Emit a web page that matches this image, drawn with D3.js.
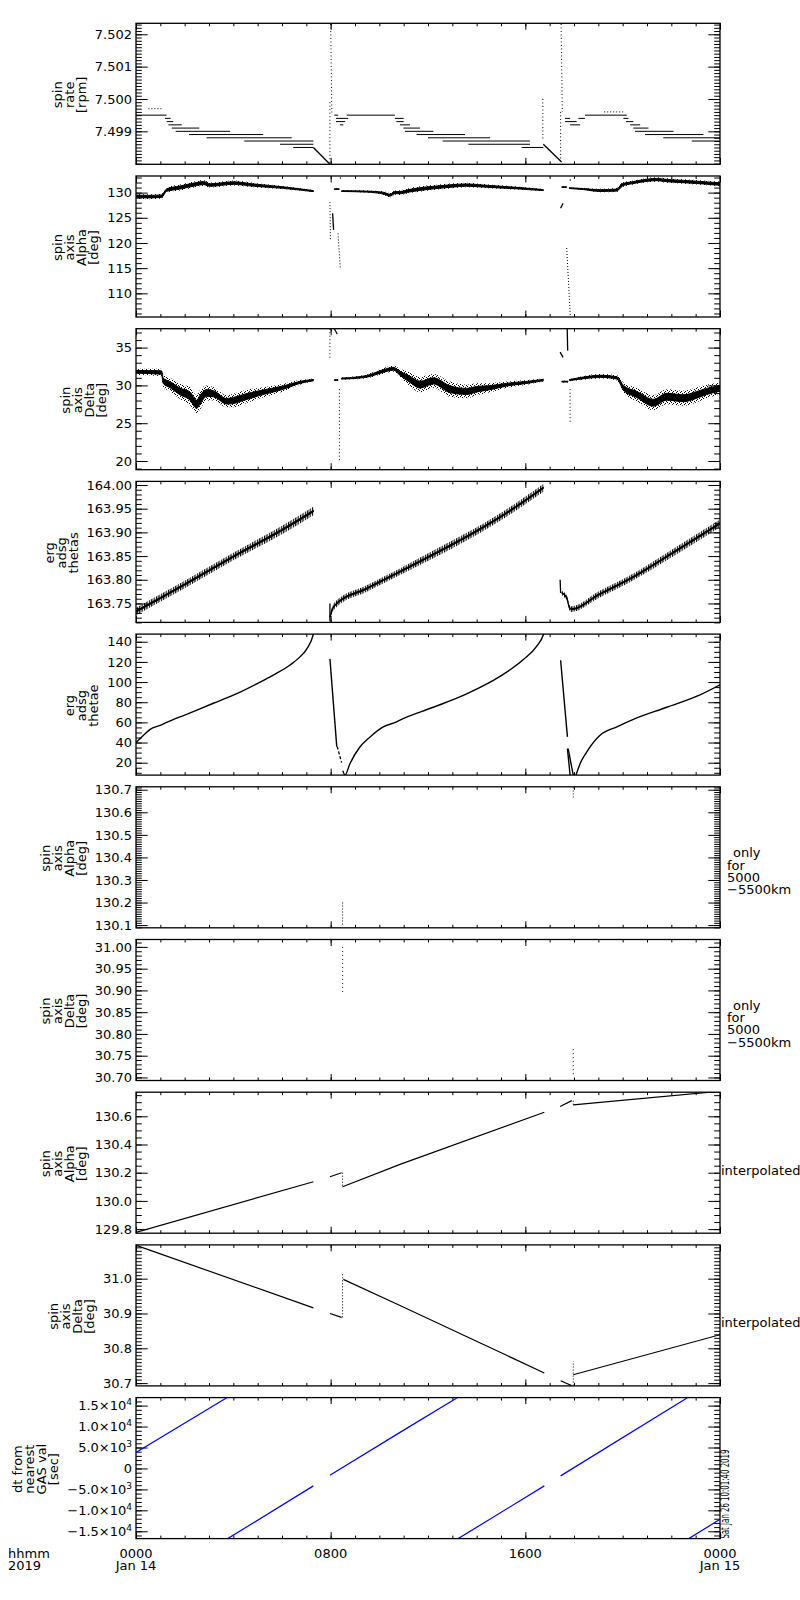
<!DOCTYPE html>
<html>
<head>
<meta charset="utf-8">
<script src="https://cdn.jsdelivr.net/npm/d3@7"></script>
<style>
body { margin: 0; background: #fff; }
text { font-family: "DejaVu Sans", sans-serif; font-size: 13px; fill: #000; }
</style>
</head>
<body>
<script>
// time axis (hours of Jan 14 2019)
const xMajor = [0, 8, 16, 24];
const xMajorLabels = ['0000', '0800', '1600', '0000'];
const xDayLabels = ['Jan 14', '', '', 'Jan 15'];

// panel 1: spin rate [rpm]  -- steps are [t0, t1, value]
const rateTicks = [7.499, 7.500, 7.501, 7.502];
const rateTickLabels = ['7.499', '7.500', '7.501', '7.502'];
const rateSteps = [
  [0, 1.26, 7.4995], [1.19, 1.42, 7.4994], [1.26, 1.53, 7.4993], [1.33, 1.88, 7.4992],
  [1.47, 2.60, 7.4991], [1.63, 3.86, 7.4990], [2.18, 5.23, 7.4989], [2.90, 6.40, 7.4988],
  [4.45, 7.29, 7.4987], [5.92, 7.29, 7.4986], [6.46, 7.29, 7.4985],
  [8.15, 8.31, 7.4995], [8.22, 8.72, 7.4994], [8.22, 8.60, 7.4993], [8.38, 8.52, 7.4992],
  [8.66, 10.64, 7.4995], [10.64, 11.00, 7.4994], [10.70, 11.00, 7.4993], [10.85, 11.26, 7.4992],
  [10.99, 11.67, 7.4991], [11.05, 12.22, 7.4990], [11.53, 13.52, 7.4989], [12.00, 14.55, 7.4988],
  [12.60, 16.19, 7.4987], [13.66, 16.19, 7.4986], [15.85, 16.74, 7.4985],
  [17.63, 17.84, 7.4994], [17.63, 18.11, 7.4993], [17.84, 18.25, 7.4992], [18.18, 18.45, 7.4994],
  [18.45, 20.17, 7.4995], [20.03, 20.24, 7.4994], [20.14, 20.44, 7.4993], [20.31, 20.72, 7.4992],
  [20.44, 21.06, 7.4991], [20.51, 22.09, 7.4990], [20.92, 23.32, 7.4989], [21.67, 24.00, 7.4988],
  [22.84, 24.00, 7.4987]
];
const rateStepsDotted = [[0.51, 1.08, 7.4997], [19.24, 20.06, 7.4996]];
const rateRamps = [
  [[7.29, 7.4985], [7.97, 7.49798]],
  [[16.74, 7.4986], [17.49, 7.49805]]
];
const rateSpikes = [
  [[8.00, 7.50232], [8.05, 7.4995]], [[7.97, 7.4999], [7.97, 7.4980]],
  [[17.47, 7.50232], [17.52, 7.4996]], [[17.45, 7.4996], [17.45, 7.4981]],
  [[16.72, 7.5000], [16.72, 7.4987]]
];

// panel 2: spin axis Alpha [deg]  -- bands are [t, middle, half spread]
const alphaTicks = [110, 115, 120, 125, 130];
const alphaTickLabels = ['110', '115', '120', '125', '130'];
const alphaBands = [
  [[0, 129.3, 0.45], [0.5, 129.2, 0.5], [1.05, 129.3, 0.5], [1.26, 130.5, 0.5], [1.8, 131.0, 0.6],
   [2.49, 131.7, 0.6], [2.77, 131.9, 0.6], [3.04, 131.5, 0.5], [4.0, 131.9, 0.5], [4.82, 131.5, 0.45],
   [6.05, 131.0, 0.3], [7.29, 130.3, 0.2]],
  [[8.15, 130.7, 0.12], [8.35, 130.7, 0.12]],
  [[8.45, 130.3, 0.15], [9.48, 130.2, 0.2], [10.16, 129.9, 0.35], [10.44, 129.5, 0.4], [10.64, 130.0, 0.4],
   [10.85, 130.0, 0.45], [11.26, 130.4, 0.5], [11.67, 130.7, 0.55], [12.22, 131.0, 0.5], [12.9, 131.3, 0.5],
   [13.59, 131.5, 0.45], [14.28, 131.3, 0.4], [14.96, 131.1, 0.35], [15.65, 130.9, 0.3], [16.74, 130.5, 0.2]],
  [[17.5, 131.1, 0.12], [17.7, 131.1, 0.12]],
  [[17.81, 130.9, 0.15], [18.39, 130.7, 0.2], [19.07, 130.4, 0.35], [19.76, 130.5, 0.4], [19.97, 131.5, 0.45],
   [20.44, 132.0, 0.4], [21.4, 132.6, 0.45], [21.81, 132.4, 0.45], [22.5, 132.2, 0.45], [23.18, 132.0, 0.45],
   [24, 131.7, 0.5]]
];
const alphaJumps = [[[8.08, 125.9], [8.12, 122.6]], [[17.45, 126.9], [17.55, 127.9]]];
const alphaDots = [[[7.97, 128.1], [7.99, 120.6]], [[8.3, 121.9], [8.4, 114.8]], [[17.7, 119.0], [17.85, 105.3]]];
const alphaPoints = [[8.4, 132.9], [17.85, 132.5]];

// panel 3: spin axis Delta [deg]
const deltaTicks = [20, 25, 30, 35];
const deltaTickLabels = ['20', '25', '30', '35'];
const deltaBands = [
  [[0, 31.8, 0.4], [1.05, 31.7, 0.5], [1.12, 30.6, 0.8], [1.4, 30.1, 0.9], [1.81, 29.2, 1.0], [2.22, 28.6, 1.2],
   [2.49, 27.5, 1.2], [2.63, 28.1, 1.3], [2.9, 29.0, 1.0], [3.18, 28.9, 0.9], [3.73, 27.9, 0.8], [4.0, 28.0, 0.9],
   [4.41, 28.4, 0.9], [5.1, 29.0, 0.7], [6.05, 29.7, 0.5], [6.74, 30.4, 0.3], [7.29, 30.7, 0.2]],
  [[8.15, 30.7, 0.12], [8.3, 30.7, 0.12]],
  [[8.45, 30.9, 0.15], [9.48, 31.2, 0.25], [10.16, 31.9, 0.4], [10.58, 32.2, 0.4], [10.85, 31.6, 0.6],
   [11.26, 30.8, 0.9], [11.67, 30.1, 1.0], [12.22, 30.6, 0.9], [12.9, 29.5, 1.0], [13.59, 29.2, 0.9],
   [14.0, 29.5, 0.8], [14.55, 29.7, 0.6], [15.24, 30.1, 0.4], [16.06, 30.4, 0.3], [16.74, 30.7, 0.2]],
  [[17.5, 30.5, 0.12], [17.75, 30.5, 0.12]],
  [[17.81, 30.7, 0.15], [18.39, 31.0, 0.25], [19.07, 31.2, 0.3], [19.76, 31.0, 0.35], [20.03, 29.7, 0.7],
   [20.58, 28.8, 0.9], [21.26, 27.7, 1.0], [21.81, 28.5, 1.0], [22.5, 28.3, 1.0], [22.91, 28.6, 1.0],
   [23.45, 29.2, 0.9], [24, 29.6, 0.8]]
];
const deltaJumps = [[[8.15, 37.5], [8.27, 36.8]], [[17.43, 34.4], [17.55, 33.7]], [[17.72, 37.6], [17.74, 34.6]]];
const deltaDots = [[[7.97, 37.5], [7.97, 33.5]], [[8.36, 29.5], [8.36, 20.1]], [[17.84, 29.5], [17.84, 25.2]]];

// panel 4: erg adsg thetas
const thetasTicks = [163.75, 163.80, 163.85, 163.90, 163.95, 164.00];
const thetasTickLabels = ['163.75', '163.80', '163.85', '163.90', '163.95', '164.00'];
const thetasBands = [
  [[0, 163.733, 0.008], [2, 163.79, 0.008], [4, 163.849, 0.008], [6, 163.905, 0.009], [7.29, 163.945, 0.009]],
  [[7.97, 163.722, 0.005], [8.15, 163.745, 0.007], [9.5, 163.782, 0.007], [10.85, 163.817, 0.007],
   [12.2, 163.853, 0.008], [13.59, 163.891, 0.008], [15.2, 163.94, 0.008], [16.74, 163.994, 0.008]],
  [[17.5, 163.772, 0.005], [17.72, 163.76, 0.006], [17.8, 163.742, 0.006], [17.9, 163.738, 0.006],
   [19, 163.768, 0.007], [20.44, 163.806, 0.007], [22, 163.855, 0.008], [24, 163.919, 0.008]]
];
const thetasJumps = [[[7.97, 163.75], [7.97, 163.712]], [[17.43, 163.80], [17.45, 163.772]]];

// panel 5: erg adsg thetae
const thetaeTicks = [20, 40, 60, 80, 100, 120, 140];
const thetaeTickLabels = ['20', '40', '60', '80', '100', '120', '140'];
const thetaeLines = [
  [[0, 40], [0.3, 47], [0.58, 53], [0.99, 57], [1.26, 60], [2.08, 68], [3.18, 79], [4.0, 87], [5.1, 100],
   [5.64, 107], [6.33, 117], [6.74, 125], [7.02, 133], [7.29, 147.6], [7.33, 152]],
  [[7.97, 123], [8.25, 36]],
  [[8.5, 12], [8.59, 7.7], [8.79, 19], [9.2, 35.6], [9.62, 45.6], [10.16, 55.5], [10.71, 60.6], [10.85, 62.3],
   [12.22, 75], [13.59, 88.3], [14.96, 105.6], [15.92, 122.3], [16.47, 135.6], [16.74, 147], [16.8, 152]],
  [[17.45, 121.6], [17.73, 45.6]],
  [[17.73, 34], [17.84, 7.6]],
  [[17.76, 34], [17.97, 7.6]],
  [[18.08, 7.6], [18.25, 19], [18.52, 30.6], [19.07, 47.3], [19.76, 55.6], [20.44, 63], [21.81, 75],
   [23.18, 87.3], [24, 97.3]]
];
const thetaeDashes = [[[8.27, 36], [8.45, 20]]];

// panel 6: spin axis Alpha only for 5000-5500km
const alphaOnlyTicks = [130.1, 130.2, 130.3, 130.4, 130.5, 130.6, 130.7];
const alphaOnlyTickLabels = ['130.1', '130.2', '130.3', '130.4', '130.5', '130.6', '130.7'];
const alphaOnlyDots = [[[8.49, 130.2], [8.49, 130.1]], [[17.97, 130.71], [17.97, 130.666]]];

// panel 7: spin axis Delta only for 5000-5500km
const deltaOnlyTicks = [30.70, 30.75, 30.80, 30.85, 30.90, 30.95, 31.00];
const deltaOnlyTickLabels = ['30.70', '30.75', '30.80', '30.85', '30.90', '30.95', '31.00'];
const deltaOnlyDots = [[[8.49, 31.0], [8.49, 30.89]], [[17.97, 30.765], [17.97, 30.703]]];

// panel 8: spin axis Alpha interpolated
const alphaInterpTicks = [129.8, 130.0, 130.2, 130.4, 130.6];
const alphaInterpTickLabels = ['129.8', '130.0', '130.2', '130.4', '130.6'];
const alphaInterp = [
  [[0, 129.776], [7.29, 130.136]],
  [[7.97, 130.171], [8.45, 130.2]],
  [[8.49, 130.1], [10.85, 130.259], [16.78, 130.629]],
  [[17.43, 130.669], [17.91, 130.711]],
  [[17.97, 130.681], [23.59, 130.771], [24, 130.771]]
];
const alphaInterpDots = [[[8.49, 130.2], [8.49, 130.1]], [[17.97, 130.711], [17.97, 130.681]]];

// panel 9: spin axis Delta interpolated
const deltaInterpTicks = [30.7, 30.8, 30.9, 31.0];
const deltaInterpTickLabels = ['30.7', '30.8', '30.9', '31.0'];
const deltaInterp = [
  [[0, 31.096], [7.29, 30.916]],
  [[7.97, 30.9], [8.45, 30.889]],
  [[8.52, 30.998], [10.85, 30.923], [16.78, 30.729]],
  [[17.45, 30.707], [17.9, 30.693]],
  [[17.97, 30.724], [24, 30.839]]
];
const deltaInterpDots = [[[8.49, 30.889], [8.49, 31.017]], [[17.97, 30.693], [17.97, 30.763]]];

// panel 10: dt from nearest GAS val [sec]
const dtTicks = [-15000, -10000, -5000, 0, 5000, 10000, 15000];
const dtTickLabels = ['\u22121.5\u00d710^4', '\u22121.0\u00d710^4', '\u22125.0\u00d710^3', '0',
  '5.0\u00d710^3', '1.0\u00d710^4', '1.5\u00d710^4'];
const dtLines = [
  [[0, 3830], [3.73, 16900]],
  [[3.77, -16750], [7.29, -4160]],
  [[7.97, -1600], [10.85, 8610], [13.2, 16900]],
  [[13.24, -16750], [16.78, -4160]],
  [[17.45, -1770], [22.66, 16900]],
  [[22.72, -16750], [24, -12130]]
];

// ---------------------------------------------------------------
const left = 136, right = 720, top0 = 23.3, pitch = 152.7, ph = 141;

const svg = d3.select('body').append('svg').attr('width', 800).attr('height', 1600);
const defs = svg.append('defs');

const speckle = defs.append('pattern').attr('id', 'speckle')
  .attr('width', 4).attr('height', 4).attr('patternUnits', 'userSpaceOnUse');
[[0, 0], [2, 1], [1, 3], [3, 2]].forEach(p => speckle.append('rect')
  .attr('x', p[0]).attr('y', p[1]).attr('width', 1).attr('height', 1).attr('fill', '#000'));

const hatch = defs.append('pattern').attr('id', 'hatch')
  .attr('width', 2.4).attr('height', 4).attr('patternUnits', 'userSpaceOnUse');
hatch.append('rect').attr('width', 1.2).attr('height', 4).attr('fill', '#000');

const x = d3.scaleLinear().domain([0, 24]).range([left, right]);
const hourTicks = d3.range(0, 25);

function minorValues(domain, step) {
  const a = Math.ceil(domain[0] / step - 1e-6), b = Math.floor(domain[1] / step + 1e-6);
  return d3.range(a, b + 1).map(k => +(k * step).toFixed(6));
}

function panel(i, domain, ticks, tickLabels, minorStep, title) {
  const top = top0 + i * pitch, bottom = top + ph;
  const y = d3.scaleLinear().domain(domain).range([bottom, top]);
  const ax = svg.append('g');
  const minor = minorValues(domain, minorStep);

  ax.append('g').attr('transform', `translate(${left},0)`)
    .call(d3.axisLeft(y).tickValues(minor).tickSize(-5.8).tickFormat(''));
  ax.append('g').attr('transform', `translate(${right},0)`)
    .call(d3.axisRight(y).tickValues(minor).tickSize(-5.8).tickFormat(''));
  const yl = ax.append('g').attr('transform', `translate(${left},0)`)
    .call(d3.axisLeft(y).tickValues(ticks).tickSize(-11.7).tickPadding(4)
      .tickFormat((d, k) => tickLabels[k]));
  ax.append('g').attr('transform', `translate(${right},0)`)
    .call(d3.axisRight(y).tickValues(ticks).tickSize(-11.7).tickFormat(''));

  ax.append('g').attr('transform', `translate(0,${bottom})`)
    .call(d3.axisBottom(x).tickValues(hourTicks).tickSize(-3).tickFormat(''));
  ax.append('g').attr('transform', `translate(0,${bottom})`)
    .call(d3.axisBottom(x).tickValues(xMajor).tickSize(-6.5).tickFormat(''));
  ax.append('g').attr('transform', `translate(0,${top})`)
    .call(d3.axisTop(x).tickValues(hourTicks).tickSize(-3).tickFormat(''));
  ax.append('g').attr('transform', `translate(0,${top})`)
    .call(d3.axisTop(x).tickValues(xMajor).tickSize(-6.5).tickFormat(''));

  ax.selectAll('.domain').remove();
  ax.selectAll('.tick line').attr('stroke', '#000').attr('stroke-width', 1);
  yl.attr('font-size', 13).attr('font-family', '"DejaVu Sans", sans-serif');
  yl.selectAll('.tick text').attr('fill', '#000').each(function () {
    const s = d3.select(this), t = s.text();
    if (t.indexOf('^') >= 0) {
      const parts = t.split('^');
      s.text(null);
      s.append('tspan').text(parts[0]);
      s.append('tspan').attr('dy', -5).attr('font-size', 9).text(parts[1]);
    }
  });

  svg.append('rect').attr('x', left).attr('y', top).attr('width', right - left).attr('height', ph)
    .attr('fill', 'none').attr('stroke', '#000').attr('stroke-width', 1.3);

  // rotated multi-line title
  let minX = left;
  yl.selectAll('.tick text').each(function () {
    minX = Math.min(minX, left + this.getBBox().x);
  });
  const tt = svg.append('text')
    .attr('transform', `translate(${minX - 9},${(top + bottom) / 2 + 1}) rotate(-90)`)
    .attr('text-anchor', 'middle');
  title.forEach((s, k) => tt.append('tspan').attr('x', 0)
    .attr('dy', k === 0 ? -(title.length - 1) * 12 : 12).text(s));

  svg.append('clipPath').attr('id', `clip${i}`).append('rect')
    .attr('x', left).attr('y', top).attr('width', right - left).attr('height', ph);
  const g = svg.append('g').attr('clip-path', `url(#clip${i})`);
  return { g, y, top, bottom };
}

function paths(p, segs, opts) {
  const o = Object.assign({ stroke: '#000', width: 1, dash: null, curve: d3.curveLinear }, opts);
  const ln = d3.line().curve(o.curve).x(d => x(d[0])).y(d => p.y(d[1]));
  p.g.selectAll(null).data(segs).enter().append('path')
    .attr('d', d => ln(d)).attr('fill', 'none')
    .attr('stroke', o.stroke).attr('stroke-width', o.width)
    .attr('stroke-dasharray', o.dash);
}

function steps(p, rows, dash) {
  paths(p, rows.map(r => [[r[0], r[2]], [r[1], r[2]]]), { dash: dash });
}

function bands(p, rows, fill, coreFrac) {
  const outer = d3.area().curve(d3.curveMonotoneX).x(d => x(d[0]))
    .y0(d => p.y(d[1] - d[2])).y1(d => p.y(d[1] + d[2]));
  const core = d3.area().curve(d3.curveMonotoneX).x(d => x(d[0]))
    .y0(d => p.y(d[1] - d[2] * coreFrac)).y1(d => p.y(d[1] + d[2] * coreFrac));
  rows.forEach(b => {
    p.g.append('path').attr('d', outer(b)).attr('fill', fill);
    p.g.append('path').attr('d', core(b)).attr('fill', '#000').attr('stroke', '#000').attr('stroke-width', 1);
  });
}

// panel 1
const p1 = panel(0, [7.49798, 7.50234], rateTicks, rateTickLabels, 0.0001, ['spin', 'rate', '[rpm]']);
steps(p1, rateSteps, null);
steps(p1, rateStepsDotted, '1,2');
paths(p1, rateRamps, { width: 1.3 });
paths(p1, rateSpikes, { dash: '1,2.5' });

// panel 2
const p2 = panel(1, [105.3, 133.3], alphaTicks, alphaTickLabels, 1, ['spin', 'axis', 'Alpha', '[deg]']);
bands(p2, alphaBands, 'url(#speckle)', 0.5);
paths(p2, alphaJumps, { width: 1.3 });
paths(p2, alphaDots, { dash: '1,2' });
p2.g.selectAll(null).data(alphaPoints).enter().append('rect')
  .attr('x', d => x(d[0]) - 0.6).attr('y', d => p2.y(d[1]) - 0.6)
  .attr('width', 1.2).attr('height', 1.2).attr('fill', '#000');

// panel 3
const p3 = panel(2, [18.85, 37.5], deltaTicks, deltaTickLabels, 1, ['spin', 'axis', 'Delta', '[deg]']);
bands(p3, deltaBands, 'url(#speckle)', 0.45);
paths(p3, deltaJumps, { width: 1.3 });
paths(p3, deltaDots, { dash: '1,2.5' });

// panel 4
const p4 = panel(3, [163.71, 164.0076], thetasTicks, thetasTickLabels, 0.01, ['erg', 'adsg', 'thetas']);
bands(p4, thetasBands, 'url(#hatch)', 0.2);
paths(p4, thetasJumps, { width: 1.3 });

// panel 5
const p5 = panel(4, [7.7, 147.6], thetaeTicks, thetaeTickLabels, 5, ['erg', 'adsg', 'thetae']);
paths(p5, thetaeLines, { width: 1.4, curve: d3.curveMonotoneX });
paths(p5, thetaeDashes, { width: 1.3, dash: '3,2' });

// panel 6
const p6 = panel(5, [130.088, 130.713], alphaOnlyTicks, alphaOnlyTickLabels, 0.01, ['spin', 'axis', 'Alpha', '[deg]']);
paths(p6, alphaOnlyDots, { dash: '1,2' });

// panel 7
const p7 = panel(6, [30.693, 31.017], deltaOnlyTicks, deltaOnlyTickLabels, 0.01, ['spin', 'axis', 'Delta', '[deg]']);
paths(p7, deltaOnlyDots, { dash: '1,3' });

// panel 8
const p8 = panel(7, [129.771, 130.771], alphaInterpTicks, alphaInterpTickLabels, 0.05, ['spin', 'axis', 'Alpha', '[deg]']);
paths(p8, alphaInterp, { width: 1.2 });
paths(p8, alphaInterpDots, { dash: '1,2' });

// panel 9
const p9 = panel(8, [30.692, 31.097], deltaInterpTicks, deltaInterpTickLabels, 0.01, ['spin', 'axis', 'Delta', '[deg]']);
paths(p9, deltaInterp, { width: 1.2 });
paths(p9, deltaInterpDots, { dash: '1,2' });

// panel 10
const p10 = panel(9, [-16746, 16914], dtTicks, dtTickLabels, 1000, ['dt from', 'nearest', 'GAS val', '[sec]']);
paths(p10, dtLines, { stroke: '#0000ff', width: 1.2 });

// right-hand notes, one text per line
[p6, p7].forEach(p => {
  const y0 = (p.top + p.bottom) / 2;
  ['only', 'for', '5000', '\u22125500km'].forEach((s, k) => svg.append('text')
    .attr('x', k === 0 ? 733 : 727).attr('y', y0 + k * 12.2)
    .attr('font-size', 10.2).text(s));
});
[p8, p9].forEach(p => {
  svg.append('text').attr('x', 721).attr('y', (p.top + p.bottom) / 2 + 12).text('interpolated');
});

// time stamp
svg.append('text')
  .attr('transform', `translate(728.5,${p10.bottom}) rotate(-90)`)
  .attr('font-size', 7.5).attr('textLength', 89).attr('lengthAdjust', 'spacingAndGlyphs')
  .text('Sat Jan 26 10:01:40 2019');

// time axis labels under the last panel
const lab = svg.append('g');
lab.selectAll(null).data(xMajor).enter().append('text')
  .attr('x', d => x(d)).attr('y', 1558).attr('text-anchor', 'middle')
  .text((d, k) => xMajorLabels[k]);
lab.selectAll(null).data(xMajor).enter().append('text')
  .attr('x', d => x(d)).attr('y', 1570).attr('text-anchor', 'middle')
  .text((d, k) => xDayLabels[k]);
lab.append('text').attr('x', 8).attr('y', 1558).text('hhmm');
lab.append('text').attr('x', 8).attr('y', 1570).text('2019');
</script>
</body>
</html>
